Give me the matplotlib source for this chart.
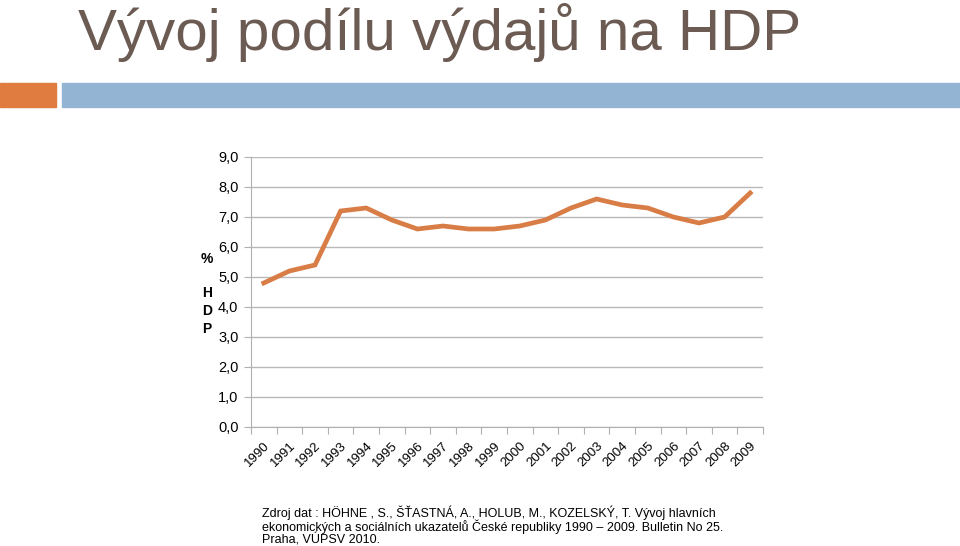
import matplotlib.pyplot as plt
from matplotlib.patches import Rectangle

plt.rcParams['font.family'] = ['Liberation Sans', 'DejaVu Sans']

years = [str(y) for y in range(1990, 2010)]
podil = [4.8, 5.2, 5.4, 7.2, 7.3, 6.9, 6.6, 6.7, 6.6, 6.6,
         6.7, 6.9, 7.3, 7.6, 7.4, 7.3, 7.0, 6.8, 7.0, 7.8]
y_ticks = [0, 1, 2, 3, 4, 5, 6, 7, 8, 9]
y_labels = ['%.1f' % v for v in y_ticks]
y_labels = [s.replace('.', ',') for s in y_labels]

fig = plt.figure(figsize=(9.6, 5.46), dpi=100)

# title and header bars
fig.text(0.081, 1 - 50 / 546, 'Vývoj podílu výdajů na HDP', fontsize=42,
         color='#6b5b53', va='baseline', ha='left')
fig.patches.append(Rectangle((0, 1 - 107 / 546), 56 / 960, 24 / 546,
                             transform=fig.transFigure, color='#e07c40'))
fig.patches.append(Rectangle((62 / 960, 1 - 107 / 546), 898 / 960, 24 / 546,
                             transform=fig.transFigure, color='#94b4d3'))

ax = fig.add_axes([251 / 960, 1 - 427 / 546, 512 / 960, 270 / 546])
x = list(range(len(years)))
ax.plot(x, podil, color='#d97d47', linewidth=3.4, solid_joinstyle='miter')

ax.set_xlim(-0.5, len(years) - 0.5)
ax.set_ylim(0, 9)
ax.set_yticks(y_ticks)
ax.set_yticklabels(y_labels, fontsize=10.5)
ax.yaxis.grid(True, color='#b8b8b8', linewidth=1)
ax.set_axisbelow(True)

ax.set_xticks([i - 0.5 for i in range(len(years) + 1)])
ax.set_xticklabels([])
ax.set_xticks(x, minor=True)
ax.set_xticklabels(years, minor=True, rotation=45, ha='right',
                   rotation_mode='anchor', fontsize=9.5)
ax.tick_params(axis='x', which='major', length=5, color='#b0b0b0')
ax.tick_params(axis='x', which='minor', length=0, pad=9)
ax.tick_params(axis='y', length=5, color='#b0b0b0', pad=4)

for s in ['top', 'right']:
    ax.spines[s].set_visible(False)
for s in ['left', 'bottom']:
    ax.spines[s].set_color('#b0b0b0')

fig.text(207 / 960, 1 - 259 / 546, '%', fontsize=10, fontweight='bold',
         ha='center', va='center')
for i, ch in enumerate('HDP'):
    fig.text(207 / 960, 1 - (293 + i * 18) / 546, ch, fontsize=10,
             fontweight='bold', ha='center', va='center')

source = ('Zdroj dat : HÖHNE , S., ŠŤASTNÁ, A., HOLUB, M., KOZELSKÝ, T. Vývoj hlavních\n'
          'ekonomických a sociálních ukazatelů České republiky 1990 – 2009. Bulletin No 25.\n'
          'Praha, VÚPSV 2010.')
fig.text(262 / 960, 1 - 505 / 546, source, fontsize=9.0, ha='left', va='top',
         linespacing=0.98)

fig.savefig('out.png', dpi=100)
